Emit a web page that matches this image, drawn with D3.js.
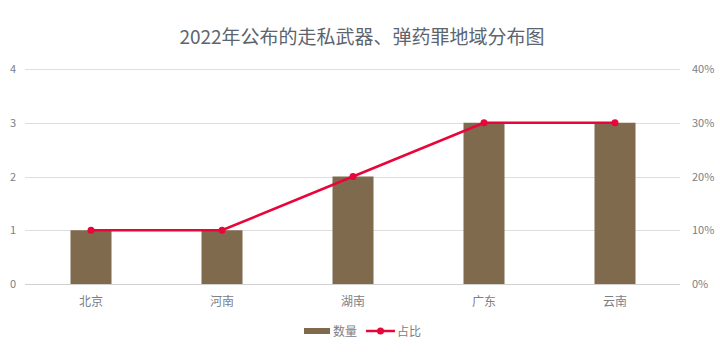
<!DOCTYPE html>
<html><head><meta charset="utf-8">
<script src="https://cdn.jsdelivr.net/npm/d3@7"></script>
<style>body{margin:0;background:#fff}svg{display:block}text{font-family:"Microsoft YaHei","Noto Sans CJK SC",sans-serif}</style>
</head><body><svg id="c" width="720" height="362"></svg>
<script>
const categories=["北京","河南","湖南","广东","云南"];
const counts=[1,1,2,3,3];
const shares=[0.10,0.10,0.20,0.30,0.30];
const leftTicks=[0,1,2,3,4];
const rightTicks=[0,0.1,0.2,0.3,0.4];
const title="2022年公布的走私武器、弹药罪地域分布图";
const seriesNames=["数量","占比"];

const svg=d3.select("#c");
const x=d3.scaleBand().domain(categories).range([25.5,680.5]);
const y=d3.scaleLinear().domain([0,4]).range([284,69]);
const y2=d3.scaleLinear().domain([0,0.4]).range([284,69]);
const barColor="#7f6a4e", lineColor="#e8053a", txt="#7b8088";

svg.append("text").attr("x",362).attr("y",44).attr("text-anchor","middle")
 .attr("font-size",19).attr("fill","#5c6470").text(title);

const g=svg.append("g");
g.selectAll("line.grid").data(leftTicks).join("line")
 .attr("x1",25).attr("x2",680).attr("y1",d=>Math.round(y(d))+0.5).attr("y2",d=>Math.round(y(d))+0.5)
 .attr("stroke",d=>d===0?"#d0d0d0":"#dedede").attr("stroke-width",1);

const ax=d3.axisLeft(y).tickValues(leftTicks).tickSize(0).tickPadding(0).tickFormat(d3.format("d"));
const la=svg.append("g").attr("transform","translate(16,0)").call(ax);
la.select(".domain").remove();
la.selectAll("text").attr("fill",txt).attr("font-size",11).attr("font-family","'Segoe UI',Roboto,sans-serif");

const ax2=d3.axisRight(y2).tickValues(rightTicks).tickSize(0).tickPadding(0).tickFormat(d3.format(".0%"));
const ra=svg.append("g").attr("transform","translate(692,0)").call(ax2);
ra.select(".domain").remove();
ra.selectAll("text").attr("fill",txt).attr("font-size",11).attr("font-family","'Segoe UI',Roboto,sans-serif");

const bw=41;
g.selectAll("rect.bar").data(categories).join("rect")
 .attr("x",(d)=>x(d)+x.bandwidth()/2-bw/2).attr("width",bw)
 .attr("y",(d,i)=>y(counts[i])).attr("height",(d,i)=>y(0)-y(counts[i]))
 .attr("fill",barColor);

const xa=d3.axisBottom(x).tickSize(0).tickPadding(0);
const bx=svg.append("g").attr("transform","translate(0,306)").call(xa);
bx.select(".domain").remove();
bx.selectAll("text").attr("fill",txt).attr("font-size",12).attr("dy","0");

const line=d3.line().x((d,i)=>x(categories[i])+x.bandwidth()/2).y(d=>y2(d));
g.append("path").datum(shares).attr("d",line).attr("fill","none").attr("stroke",lineColor).attr("stroke-width",2.5);
g.selectAll("circle").data(shares).join("circle")
 .attr("cx",(d,i)=>x(categories[i])+x.bandwidth()/2).attr("cy",d=>y2(d)).attr("r",3.5).attr("fill",lineColor);

const lg=svg.append("g");
lg.append("rect").attr("x",304).attr("y",328).attr("width",26).attr("height",6).attr("fill",barColor);
lg.append("text").attr("x",333).attr("y",335.5).attr("font-size",12).attr("fill",txt).text(seriesNames[0]);
lg.append("line").attr("x1",366).attr("x2",395).attr("y1",331).attr("y2",331).attr("stroke",lineColor).attr("stroke-width",2.5);
lg.append("circle").attr("cx",380.5).attr("cy",331).attr("r",3.5).attr("fill",lineColor);
lg.append("text").attr("x",397).attr("y",335.5).attr("font-size",12).attr("fill",txt).text(seriesNames[1]);
</script></body></html>
